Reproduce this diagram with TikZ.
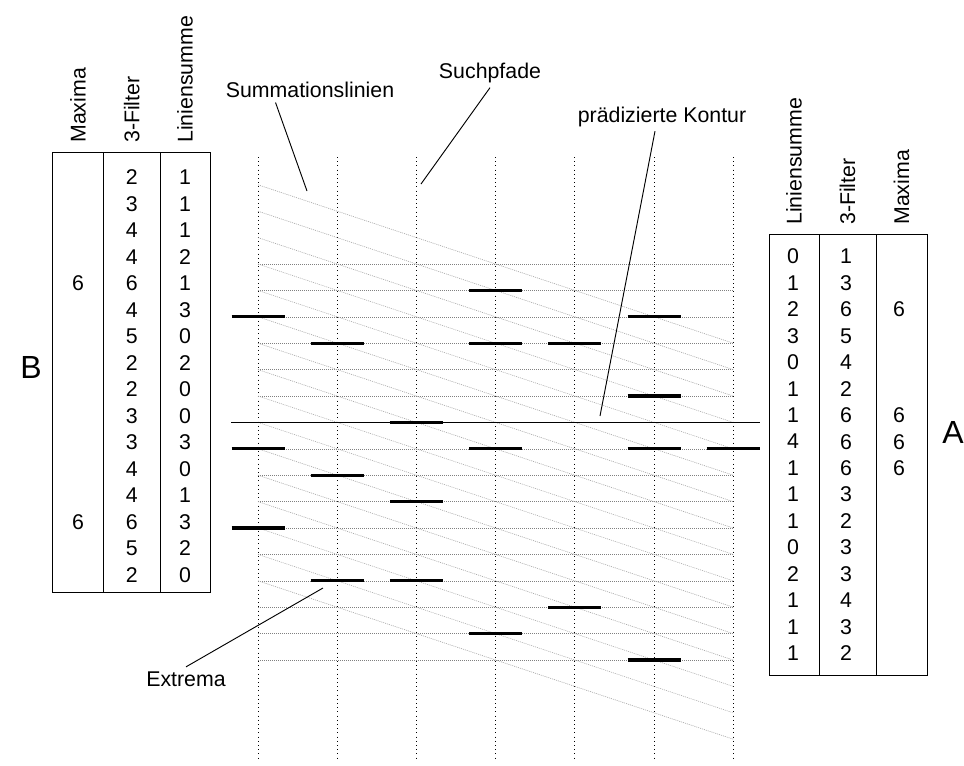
\documentclass[tikz,border=0pt]{standalone}
\usepackage{fontspec}
\setmainfont{Liberation Sans}
\usepackage{tikz}
\usetikzlibrary{calc}
\tikzstyle{searchpath} = [black,line width=0.6pt,dash pattern=on 0.75pt off 2.4pt]
\tikzstyle{rowline}    = [gray,line width=0.45pt,dash pattern=on 0.75pt off 0.75pt]
\tikzstyle{sumline}    = [gray!70,line width=0.45pt,dash pattern=on 0.75pt off 0.75pt]
\tikzstyle{extremum}   = [line width=2.5pt]
\tikzstyle{leader}     = [line width=0.7pt]
\tikzstyle{tabbox}     = [line width=0.7pt]
\tikzstyle{header}     = [rotate=90,anchor=west,inner sep=0pt]
\tikzstyle{bigletter}  = [font=\fontsize{24}{28}\selectfont]

\begin{document}
\begin{tikzpicture}[x=0.75pt,y=-0.75pt,font=\fontsize{16}{19}\selectfont]
  \useasboundingbox (0,0) rectangle (964,765);

  %search paths (vertical)
  \foreach \c in {0,...,6}{
    \draw[searchpath] (258+79.2*\c,157) -- (258+79.2*\c,760);
  }
  %rows
  \foreach \r in {0,...,5,7,8,...,15}{
    \draw[rowline] (258,264+26.4*\r) -- (733.2,264+26.4*\r);
  }
  %summation lines
  \foreach \k in {0,...,15}{
    \draw[sumline] (258,184.8+26.4*\k) -- (733.2,343.2+26.4*\k);
  }
  %predicted contour
  \draw[leader] (231,422.4) -- (760,422.4);

  %extrema (column/row)
  \foreach \c/\r in {0/2,0/7,0/10,1/3,1/8,1/12,2/6,2/9,2/12,3/1,3/3,3/7,3/14,
                     4/3,4/13,5/2,5/5,5/7,5/15,6/7}{
    \draw[extremum] (231.5+79.2*\c,264+26.4*\r) -- ++(53,0);
  }

  %labels
  \node (summ)    at (310,90)    {Summationslinien};
  \node (such)    at (490,73)    {Suchpfade};
  \node (kontur)  at (662,116.5) {prädizierte Kontur};
  \node (extrema) at (186,679)   {Extrema};
  \coordinate (summ end)    at (307,191);
  \coordinate (such end)    at (421,184);
  \coordinate (kontur end)  at (600,416);
  \coordinate (extrema end) at (323,588);
  \draw[leader] (summ.200) -- (summ end);
  \draw[leader] (such.south) -- (such end);
  \draw[leader] ($(kontur.south)+(-7,0)$) -- (kontur end);
  \draw[leader] (extrema.north) -- (extrema end);

  %table B (left)
  \draw[tabbox] (52.7,152) rectangle (210.7,592);
  \draw[tabbox] (103.3,152) -- (103.3,592) (160,152) -- (160,592);
  \node[header] (lmaxh) at (78,143)    {Maxima};
  \node[header] (lfilh) at (131.7,143) {3-Filter};
  \node[header] (lsumh) at (185,143)   {Liniensumme};
  \foreach \v[count=\i from 0] in {2,3,4,4,6,4,5,2,2,3,3,4,4,6,5,2}{
    \node (lf\i) at (131.7,177.3+26.5*\i) {\v};
  }
  \foreach \v[count=\i from 0] in {1,1,1,2,1,3,0,2,0,0,3,0,1,3,2,0}{
    \node (ls\i) at (185,177.3+26.5*\i) {\v};
  }
  \foreach \i in {4,13}{
    \node (lm\i) at (78,177.3+26.5*\i) {6};
  }
  \node[bigletter] (b) at (31,367) {B};

  %table A (right)
  \draw[tabbox] (769,234) rectangle (927,675);
  \draw[tabbox] (819,234) -- (819,675) (876,234) -- (876,675);
  \node[header] (rsumh) at (794,225)   {Liniensumme};
  \node[header] (rfilh) at (847.5,225) {3-Filter};
  \node[header] (rmaxh) at (901.5,225) {Maxima};
  \foreach \v[count=\i from 0] in {0,1,2,3,0,1,1,4,1,1,1,0,2,1,1,1}{
    \node (rs\i) at (793,256.5+26.45*\i) {\v};
  }
  \foreach \v[count=\i from 0] in {1,3,6,5,4,2,6,6,6,3,2,3,3,4,3,2}{
    \node (rf\i) at (846,256.5+26.45*\i) {\v};
  }
  \foreach \i in {2,6,7,8}{
    \node (rm\i) at (899,256.5+26.45*\i) {6};
  }
  \node[bigletter] (a) at (953,432) {A};
\end{tikzpicture}
\end{document}
